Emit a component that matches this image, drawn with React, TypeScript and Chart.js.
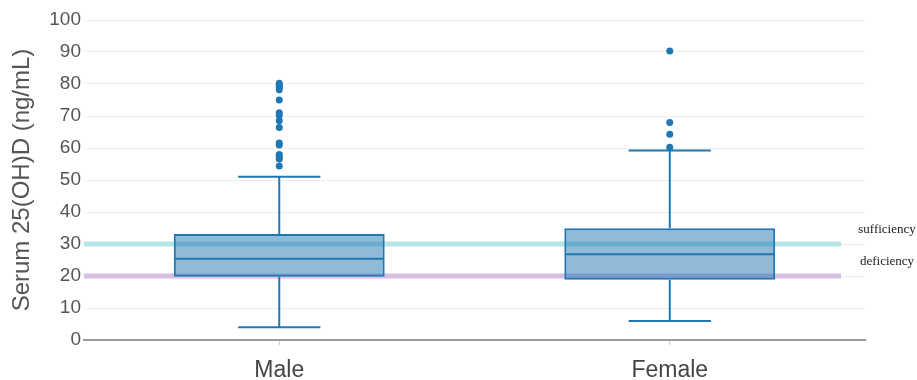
import React, { useEffect, useRef } from "react";
import { Chart, registerables } from "chart.js";

Chart.register(...registerables);

const categories = ["Male", "Female"];
const q1 = [19.8, 18.8];
const median = [25.4, 26.8];
const q3 = [33.1, 34.9];
const whiskerLow = [4.0, 5.9];
const whiskerHigh = [51.0, 59.2];
const maleOutliers = [80.2, 79.6, 79.0, 78.2, 75.0, 71.0, 70.2, 68.5, 66.4, 61.6, 60.9, 58.0, 57.3, 56.6, 54.4];
const femaleOutliers = [90.3, 68.0, 64.3, 60.2];
const refLabels = ["sufficiency", "deficiency"];
const refValues = [30, 20];
const refColors = ["#b4e5ea", "#d6bde2"];

const BLUE = "#1f77b4";

const boxPlugin = {
  id: "boxExtras",
  beforeDatasetsDraw(chart: any) {
    const { ctx, chartArea, scales } = chart;
    const y = scales.y;
    ctx.save();
    refValues.forEach((v, i) => {
      const py = y.getPixelForValue(v);
      ctx.strokeStyle = refColors[i];
      ctx.lineWidth = 5;
      ctx.beginPath();
      ctx.moveTo(chartArea.left, py);
      ctx.lineTo(chartArea.right - 24, py);
      ctx.stroke();
    });
    ctx.restore();
  },
  afterDatasetsDraw(chart: any) {
    const { ctx, scales } = chart;
    const y = scales.y;
    const meta = chart.getDatasetMeta(0);
    ctx.save();
    ctx.strokeStyle = BLUE;
    ctx.lineWidth = 2;
    categories.forEach((_, i) => {
      const bar = meta.data[i];
      const x = bar.x;
      const w = bar.width;
      const cap = w * 0.195;
      const pm = y.getPixelForValue(median[i]);
      ctx.beginPath();
      ctx.moveTo(x - w / 2 + 1, pm);
      ctx.lineTo(x + w / 2 - 1, pm);
      const pq3 = y.getPixelForValue(q3[i]);
      const ph = y.getPixelForValue(whiskerHigh[i]);
      ctx.moveTo(x, pq3);
      ctx.lineTo(x, ph);
      ctx.moveTo(x - cap, ph);
      ctx.lineTo(x + cap, ph);
      const pq1 = y.getPixelForValue(q1[i]);
      const pl = y.getPixelForValue(whiskerLow[i]);
      ctx.moveTo(x, pq1);
      ctx.lineTo(x, pl);
      ctx.moveTo(x - cap, pl);
      ctx.lineTo(x + cap, pl);
      ctx.stroke();
    });
    ctx.restore();
  },
  afterDraw(chart: any) {
    const { ctx, chartArea, scales } = chart;
    const y = scales.y;
    ctx.save();
    ctx.fillStyle = "#222";
    ctx.font = '13px "Liberation Serif", serif';
    ctx.textAlign = "center";
    ctx.textBaseline = "middle";
    refValues.forEach((v, i) => {
      ctx.fillText(refLabels[i], chartArea.right + 22, y.getPixelForValue(v) - 14);
    });
    ctx.restore();
  },
};

export default function App() {
  const ref = useRef<HTMLCanvasElement>(null);
  useEffect(() => {
    if (!ref.current) return;
    const outlierPoints = [
      ...maleOutliers.map((v) => ({ x: categories[0], y: v })),
      ...femaleOutliers.map((v) => ({ x: categories[1], y: v })),
    ];
    const chart = new Chart(ref.current, {
      type: "bar",
      data: {
        labels: categories,
        datasets: [
          {
            type: "bar",
            data: categories.map((_, i) => [q1[i], q3[i]]) as any,
            backgroundColor: "rgba(31,119,180,0.5)",
            borderColor: BLUE,
            borderWidth: 2,
            borderSkipped: false,
            barPercentage: 0.54,
            categoryPercentage: 1,
          },
          {
            type: "line",
            data: outlierPoints as any,
            showLine: false,
            pointRadius: 3.5,
            pointBackgroundColor: BLUE,
            pointBorderColor: BLUE,
            pointBorderWidth: 0,
          } as any,
        ],
      },
      options: {
        animation: false,
        responsive: false,
        maintainAspectRatio: false,
        layout: { padding: { top: 20, right: 52, left: 0, bottom: 0 } },
        plugins: { legend: { display: false }, tooltip: { enabled: false } },
        scales: {
          x: {
            type: "category",
            afterFit: (s: any) => {
              s.height = 40;
            },
            grid: { offset: false, drawOnChartArea: false, drawTicks: true, tickLength: 5, color: "#cccccc" },
            border: { display: true, color: "#999999", width: 2 },
            ticks: { color: "#444", font: { family: '"Liberation Sans", Arial, sans-serif', size: 23 }, padding: 12 },
          },
          y: {
            min: 0,
            max: 100,
            afterFit: (s: any) => {
              s.width = 84;
            },
            grid: { color: "#eeeeee", drawTicks: false },
            border: { display: false },
            ticks: {
              stepSize: 10,
              color: "#555",
              padding: 3,
              font: { family: '"Liberation Sans", Arial, sans-serif', size: 19 },
            },
            title: {
              display: true,
              text: "Serum 25(OH)D (ng/mL)",
              color: "#555",
              font: { family: '"Liberation Sans", Arial, sans-serif', size: 24 },
              padding: { top: 8, bottom: 0 },
            },
          },
        },
      },
      plugins: [boxPlugin],
    });
    return () => chart.destroy();
  }, []);
  return (
    <div style={{ position: "absolute", left: 0, top: 0, width: 917, height: 380, background: "#fff" }}>
      <canvas ref={ref} width={917} height={380} style={{ width: 917, height: 380, display: "block" }} />
    </div>
  );
}
